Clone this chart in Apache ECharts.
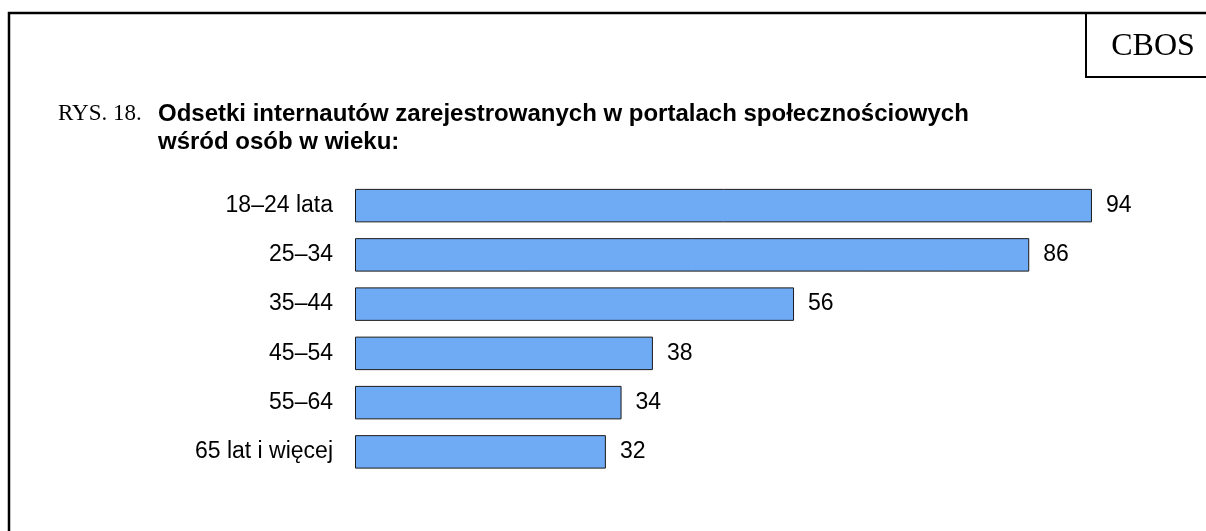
<!DOCTYPE html>
<html>
<head>
<meta charset="utf-8">
<script src="https://cdn.jsdelivr.net/npm/echarts@6/dist/echarts.min.js"></script>
<style>
  html, body { margin: 0; padding: 0; background: #fff; }
  #chart { width: 1206px; height: 531px; }
</style>
</head>
<body>
<div id="chart"></div>
<script>
// dane z rysunku
var categories = ['18–24 lata', '25–34', '35–44', '45–54', '55–64', '65 lat i więcej'];
var values = [94, 86, 56, 38, 34, 32];
var titleNo = 'RYS. 18.';
var titleLines = ['Odsetki internautów zarejestrowanych w portalach społecznościowych', 'wśród osób w wieku:'];
var source = 'CBOS';

var sans = 'Liberation Sans, Arial, sans-serif';
var serif = 'Liberation Serif, Times New Roman, serif';

var myChart = echarts.init(document.getElementById('chart'));

var option = {
    backgroundColor: '#fff',
    animation: false,
    title: [{
        text: titleNo,
        left: 58,
        top: 100,
        padding: 0,
        textStyle: {
            fontFamily: serif,
            fontWeight: 'normal',
            fontSize: 23,
            color: '#000',
            lineHeight: 28
        }
    }, {
        text: titleLines.join('\n'),
        left: 158,
        top: 100,
        padding: 0,
        textStyle: {
            fontFamily: sans,
            fontWeight: 'bold',
            fontSize: 24,
            color: '#000',
            lineHeight: 28
        }
    }],
    // ramka + okienko CBOS
    graphic: [{
        type: 'polyline',
        shape: { points: [[9, 531], [9, 13], [1206, 13]] },
        style: { stroke: '#000', lineWidth: 2.5, fill: null }
    }, {
        type: 'polyline',
        shape: { points: [[1086, 13], [1086, 77], [1206, 77]] },
        style: { stroke: '#000', lineWidth: 2, fill: null }
    }, {
        type: 'text',
        x: 1153,
        y: 47,
        style: {
            text: source,
            fontFamily: serif,
            fontSize: 32,
            fill: '#000',
            align: 'center',
            verticalAlign: 'middle'
        }
    }],
    grid: {
        left: 355,
        top: 181,
        width: 784,
        height: 295.5
    },
    xAxis: {
        type: 'value',
        min: 0,
        max: 100,
        show: false
    },
    yAxis: {
        type: 'category',
        data: categories,
        inverse: true,
        axisLine: { show: false },
        axisTick: { show: false },
        axisLabel: {
            margin: 22,
            fontFamily: sans,
            fontSize: 23,
            color: '#000'
        }
    },
    series: [{
        type: 'bar',
        data: values,
        barCategoryGap: '32%',
        itemStyle: {
            color: '#6FAAF4',
            borderColor: '#1a1a1a',
            borderWidth: 1
        },
        label: {
            show: true,
            position: 'right',
            distance: 14,
            fontFamily: sans,
            fontSize: 23,
            color: '#000'
        }
    }]
};

myChart.setOption(option);
</script>
</body>
</html>
